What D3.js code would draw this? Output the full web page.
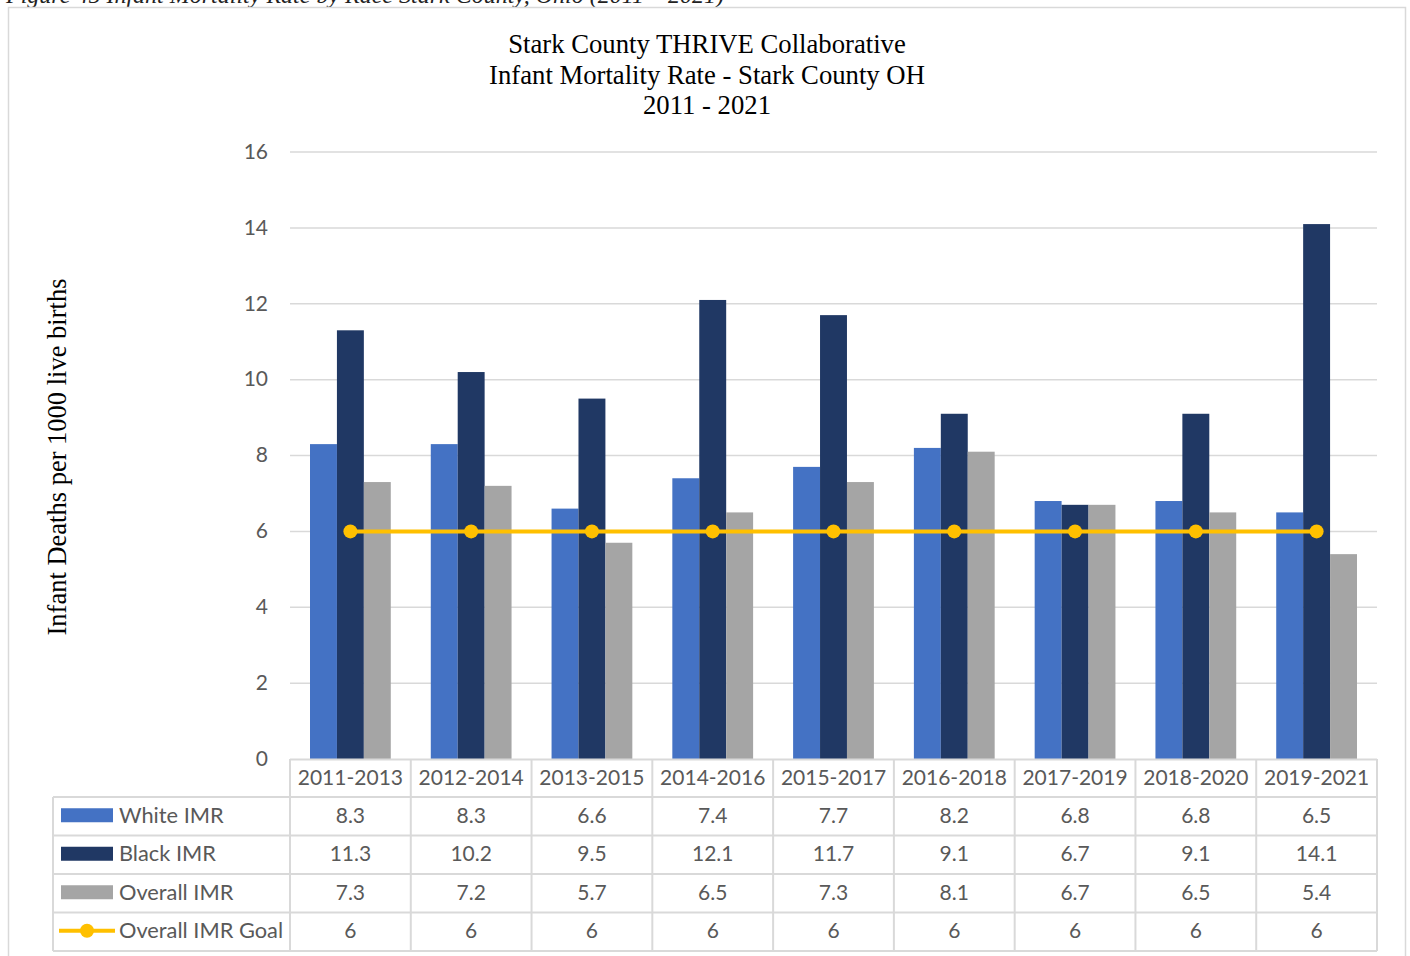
<!DOCTYPE html>
<html><head><meta charset="utf-8">
<script src="https://cdn.jsdelivr.net/npm/d3@7"></script>
<style>body{margin:0;background:#fff}svg{display:block}</style>
</head><body>
<script>
const categories = ["2011-2013","2012-2014","2013-2015","2014-2016","2015-2017","2016-2018","2017-2019","2018-2020","2019-2021"];
const whiteIMR = [8.3,8.3,6.6,7.4,7.7,8.2,6.8,6.8,6.5];
const blackIMR = [11.3,10.2,9.5,12.1,11.7,9.1,6.7,9.1,14.1];
const overallIMR = [7.3,7.2,5.7,6.5,7.3,8.1,6.7,6.5,5.4];
const goalIMR = [6,6,6,6,6,6,6,6,6];
const yTicks = [0,2,4,6,8,10,12,14,16];
const seriesNames = ["White IMR","Black IMR","Overall IMR","Overall IMR Goal"];
const titleLines = ["Stark County THRIVE Collaborative","Infant Mortality Rate - Stark County OH","2011 - 2021"];

const W=1410,H=956;
const svg=d3.select("body").append("svg").attr("width",W).attr("height",H);
const grid="#d9d9d9", txt="#595959";
const sans="Lato, 'Open Sans', sans-serif", serif="'Liberation Serif','Times New Roman',serif";

// caption (clipped at top, as in the source)
svg.append("text").attr("x",6).attr("y",3).attr("font-family",serif).attr("font-style","italic")
  .attr("font-size",24).attr("fill","#222").text("Figure 45 Infant Mortality Rate by Race Stark County, Ohio (2011 – 2021)");

// outer border
svg.append("path").attr("d","M8.5,960 V7.5 H1405.5 V960").attr("fill","none").attr("stroke",grid).attr("stroke-width",1.5);

const L=290,R=1377,T=152,B=759;
const x=d3.scaleBand().domain(categories).range([L,R]);
const y=d3.scaleLinear().domain([0,16]).range([B,T]);
const inner=d3.scaleBand().domain(["w","b","o"]).range([20,x.bandwidth()-20]);

// title
svg.append("g").selectAll("text").data(titleLines).join("text")
  .attr("x",707).attr("y",(d,i)=>53+i*30.5).attr("text-anchor","middle")
  .attr("font-family",serif).attr("font-size",26.7).attr("fill","#000").text(d=>d);

// y title
svg.append("text").attr("transform","translate(66,457) rotate(-90)").attr("text-anchor","middle")
  .attr("font-family",serif).attr("font-size",26.5).attr("fill","#000").text("Infant Deaths per 1000 live births");

// gridlines
svg.append("g").selectAll("line").data(yTicks.filter(d=>d>0)).join("line")
  .attr("x1",L).attr("x2",R).attr("y1",d=>y(d)).attr("y2",d=>y(d))
  .attr("stroke",grid).attr("stroke-width",1.5);

// y axis labels
const ya=svg.append("g").attr("transform",`translate(${L-22},0)`)
  .call(d3.axisLeft(y).tickValues(yTicks).tickSize(0).tickPadding(0));
ya.select(".domain").remove();
ya.selectAll("text").attr("font-family",sans).attr("font-size",21).attr("fill",txt).attr("dy","0.3em");

// bars
const series=[{k:"w",v:whiteIMR,c:"#4472C4"},{k:"b",v:blackIMR,c:"#203864"},{k:"o",v:overallIMR,c:"#A5A5A5"}];
series.forEach(s=>{
  svg.append("g").selectAll("rect").data(categories).join("rect")
    .attr("x",(d)=>x(d)+inner(s.k)).attr("width",inner.bandwidth())
    .attr("y",(d,i)=>y(s.v[i])).attr("height",(d,i)=>y(0)-y(s.v[i])).attr("fill",s.c);
});

// goal line
const line=d3.line().x((d,i)=>x(categories[i])+x.bandwidth()/2).y(d=>y(d));
svg.append("path").datum(goalIMR).attr("d",line).attr("fill","none").attr("stroke","#FFC000").attr("stroke-width",4);
svg.append("g").selectAll("circle").data(goalIMR).join("circle")
  .attr("cx",(d,i)=>x(categories[i])+x.bandwidth()/2).attr("cy",d=>y(d)).attr("r",7).attr("fill","#FFC000");

// data table
const rowH=38.5, hdrTop=B, rowsTop=797, legL=53;
const rows=[whiteIMR,blackIMR,overallIMR,goalIMR];
const tb=svg.append("g");
tb.append("line").attr("x1",L).attr("x2",R).attr("y1",hdrTop+0.5).attr("y2",hdrTop+0.5).attr("stroke",grid).attr("stroke-width",2);
for(let r=0;r<=4;r++){
  const yy=rowsTop+r*rowH;
  tb.append("line").attr("x1",legL).attr("x2",R).attr("y1",yy).attr("y2",yy).attr("stroke",grid).attr("stroke-width",2);
}
tb.append("line").attr("x1",legL).attr("x2",legL).attr("y1",rowsTop).attr("y2",rowsTop+4*rowH).attr("stroke",grid).attr("stroke-width",2);
[...categories.map(c=>x(c)),R].forEach(xx=>{
  tb.append("line").attr("x1",xx).attr("x2",xx).attr("y1",hdrTop).attr("y2",rowsTop+4*rowH).attr("stroke",grid).attr("stroke-width",2);
});
tb.selectAll("text.h").data(categories).join("text").attr("class","h")
  .attr("x",d=>x(d)+x.bandwidth()/2).attr("y",(hdrTop+rowsTop)/2).attr("dy","0.35em").attr("text-anchor","middle")
  .attr("font-family",sans).attr("font-size",21).attr("fill",txt).text(d=>d);
rows.forEach((vals,r)=>{
  tb.append("g").selectAll("text").data(vals).join("text")
    .attr("x",(d,i)=>x(categories[i])+x.bandwidth()/2).attr("y",rowsTop+r*rowH+rowH/2-1).attr("dy","0.35em")
    .attr("text-anchor","middle").attr("font-family",sans).attr("font-size",21).attr("fill",txt).text(d=>d);
});
const colors=["#4472C4","#203864","#A5A5A5"];
seriesNames.forEach((n,r)=>{
  const cy=rowsTop+r*rowH+rowH/2-1;
  if(r<3){
    tb.append("rect").attr("x",61).attr("y",cy-7).attr("width",52).attr("height",14).attr("fill",colors[r]);
  } else {
    tb.append("line").attr("x1",59).attr("x2",115).attr("y1",cy).attr("y2",cy).attr("stroke","#FFC000").attr("stroke-width",4);
    tb.append("circle").attr("cx",87).attr("cy",cy).attr("r",7).attr("fill","#FFC000");
  }
  tb.append("text").attr("x",119).attr("y",cy).attr("dy","0.35em").attr("font-family",sans)
    .attr("font-size",21.8).attr("fill",txt).text(n);
});
</script>
</body></html>
